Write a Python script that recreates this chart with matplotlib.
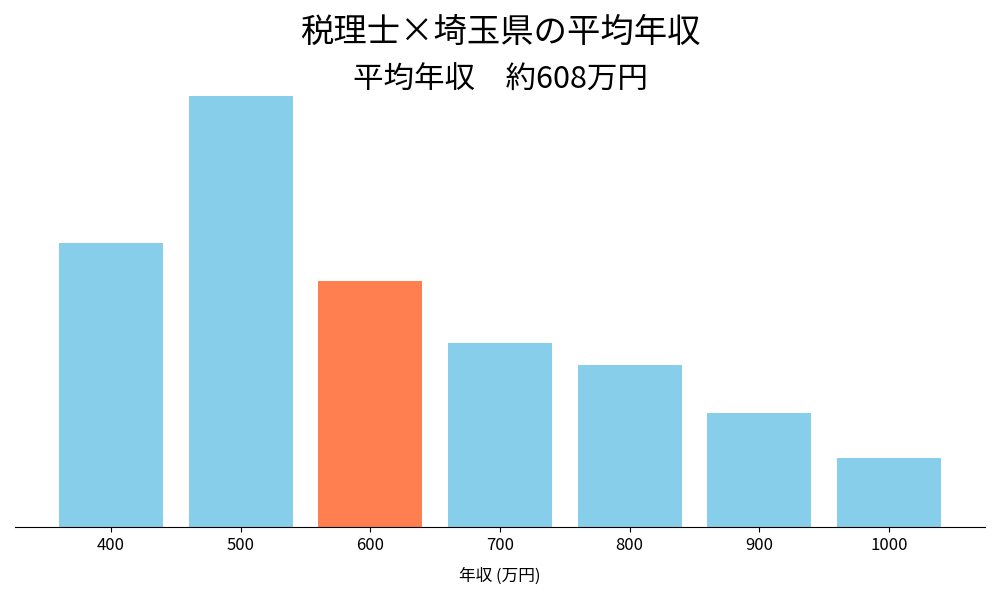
import matplotlib.pyplot as plt
import numpy as np

plt.rcParams['font.family'] = ['Noto Sans CJK JP', 'DejaVu Sans']

# ============ data ============
categories = ['400', '500', '600', '700', '800', '900', '1000']
values = [66.0, 100.0, 57.0, 42.6, 37.7, 26.4, 16.0]
highlight = '600'

colors = ['#FF7F50' if c == highlight else '#87CEEB' for c in categories]

fig, ax = plt.subplots(figsize=(10, 6), dpi=100)
x = np.arange(len(categories))
ax.bar(x, values, width=0.8, color=colors)
ax.margins(y=0)

ax.set_xticks(x)
ax.set_xticklabels(categories, fontsize=12)
ax.set_xlabel('年収 (万円)', fontsize=12, labelpad=10)
ax.set_yticks([])
for s in ['top', 'right', 'left']:
    ax.spines[s].set_visible(False)

fig.suptitle('税理士×埼玉県の平均年収', fontsize=24, y=0.975)
ax.set_title('平均年収　約608万円', fontsize=22, pad=4)

plt.tight_layout()
plt.savefig('out.png')
